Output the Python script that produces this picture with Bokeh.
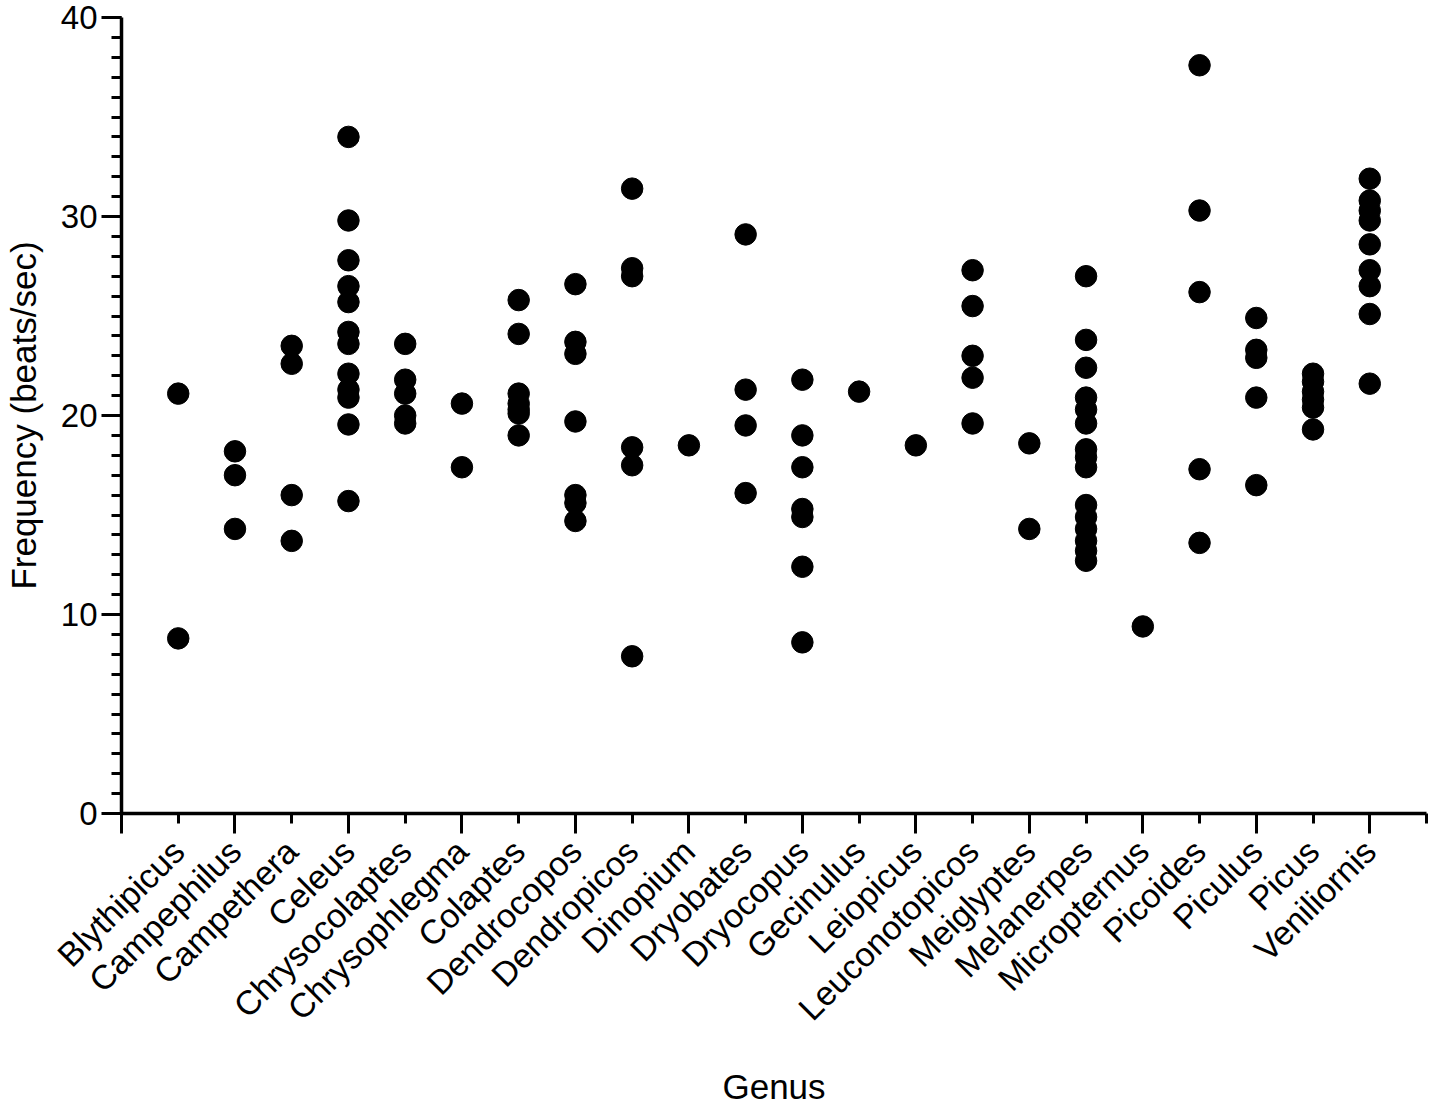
from bokeh.plotting import figure
from bokeh.models import Range1d, FixedTicker, LinearAxis, ColumnDataSource
from bokeh.embed import file_html
from bokeh.resources import INLINE
import math

genera = ["Blythipicus", "Campephilus", "Campethera", "Celeus", "Chrysocolaptes",
          "Chrysophlegma", "Colaptes", "Dendrocopos", "Dendropicos", "Dinopium",
          "Dryobates", "Dryocopus", "Gecinulus", "Leiopicus", "Leuconotopicos",
          "Meiglyptes", "Melanerpes", "Micropternus", "Picoides", "Piculus",
          "Picus", "Veniliornis"]

blythipicus = [21.1, 8.8]
campephilus = [18.2, 17.0, 14.3]
campethera = [23.5, 22.6, 16.0, 13.7]
celeus = [34.0, 29.8, 27.8, 26.5, 25.7, 24.2, 23.6, 22.1, 21.3, 20.9, 19.55, 15.7]
chrysocolaptes = [23.6, 21.8, 21.1, 20.0, 19.6]
chrysophlegma = [20.6, 17.4]
colaptes = [25.8, 24.1, 21.1, 20.6, 20.3, 20.1, 19.0]
dendrocopos = [26.6, 23.7, 23.1, 19.7, 16.0, 15.6, 14.7]
dendropicos = [31.4, 27.4, 27.0, 18.4, 17.5, 7.9]
dinopium = [18.5]
dryobates = [29.1, 21.3, 19.5, 16.1]
dryocopus = [21.8, 19.0, 17.4, 15.3, 14.9, 12.4, 8.6]
gecinulus = [21.2]
leiopicus = [18.5]
leuconotopicos = [27.3, 25.5, 23.0, 21.9, 19.6]
meiglyptes = [18.6, 14.3]
melanerpes = [27.0, 23.8, 22.4, 20.9, 20.3, 19.6, 18.3, 17.9, 17.4, 15.5, 14.9,
              14.3, 13.7, 13.2, 12.7]
micropternus = [9.4]
picoides = [37.6, 30.3, 26.2, 17.3, 13.6]
piculus = [24.9, 23.3, 22.9, 20.9, 16.5]
picus = [22.1, 21.7, 21.2, 20.8, 20.4, 19.3]
veniliornis = [31.9, 30.8, 30.3, 29.8, 28.6, 27.3, 26.5, 25.1, 21.6]

series = [blythipicus, campephilus, campethera, celeus, chrysocolaptes,
          chrysophlegma, colaptes, dendrocopos, dendropicos, dinopium,
          dryobates, dryocopus, gecinulus, leiopicus, leuconotopicos,
          meiglyptes, melanerpes, micropternus, picoides, piculus, picus,
          veniliornis]

y_ticks = [0, 10, 20, 30, 40]

xs, ys = [], []
for i, vals in enumerate(series):
    for v in vals:
        xs.append(i + 1)
        ys.append(v)
src = ColumnDataSource(dict(x=xs, y=ys))

n = len(genera)
FONT = "Liberation Sans"

p = figure(width=1433, height=1108, output_backend="svg", toolbar_location=None,
           x_range=Range1d(0, n + 1), y_range=Range1d(0, 40),
           x_axis_type=None, y_axis_type=None,
           min_border_left=121, min_border_top=17, min_border_right=7,
           min_border_bottom=295)
p.outline_line_color = None
p.grid.visible = False
p.background_fill_color = "white"
p.border_fill_color = "white"

p.scatter("x", "y", source=src, size=21.5, color="black")

# y axis
ya = LinearAxis(ticker=FixedTicker(ticks=y_ticks,
                                   minor_ticks=[v for v in range(0, 41)]))
ya.axis_label = "Frequency (beats/sec)"
ya.axis_label_text_font = FONT
ya.axis_label_text_font_size = "35px"
ya.axis_label_text_font_style = "normal"
ya.axis_label_text_color = "black"
ya.axis_label_standoff = 15
ya.major_label_text_font = FONT
ya.major_label_text_font_size = "33px"
ya.major_label_text_color = "black"
ya.major_label_standoff = 4
ya.axis_line_width = 3.5
ya.major_tick_line_width = 3
ya.minor_tick_line_width = 3
ya.major_tick_out = 20
ya.major_tick_in = 0
ya.minor_tick_out = 10
ya.minor_tick_in = 0
p.add_layout(ya, "left")

# x axis
xa = LinearAxis(ticker=FixedTicker(ticks=list(range(0, n + 2)),
                                   minor_ticks=list(range(0, n + 2, 2))))
xa.major_label_overrides = {0: "", n + 1: ""}
xa.major_label_overrides.update({i + 1: g for i, g in enumerate(genera)})
xa.major_label_orientation = math.pi / 4
xa.axis_label = "Genus"
xa.axis_label_text_font = FONT
xa.axis_label_text_font_size = "35px"
xa.axis_label_text_font_style = "normal"
xa.axis_label_text_color = "black"
xa.axis_label_standoff = 23
xa.major_label_text_font = FONT
xa.major_label_text_font_size = "34px"
xa.major_label_text_color = "black"
xa.major_label_standoff = 12
xa.axis_line_width = 3.5
xa.major_tick_line_width = 3
xa.minor_tick_line_width = 3
xa.major_tick_out = 10
xa.major_tick_in = 0
xa.minor_tick_out = 20
xa.minor_tick_in = 0
p.add_layout(xa, "below")

open("out.html", "w").write(file_html(p, INLINE))
